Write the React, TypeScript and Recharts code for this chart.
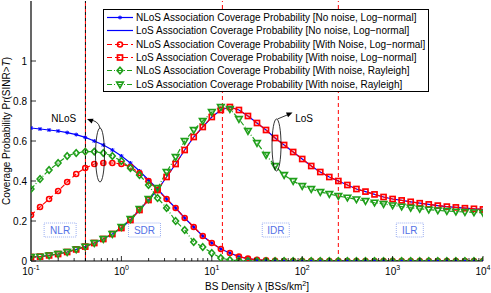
import React from 'react';
import { LineChart, Line, XAxis, YAxis, ReferenceLine, ReferenceDot } from 'recharts';

// BS density (BSs/km^2), one point every 0.1 decade
const lambda = [
  0.1, 0.1259, 0.1585, 0.1995, 0.2512, 0.3162, 0.3981, 0.5012, 0.631, 0.7943,
  1, 1.259, 1.585, 1.995, 2.512, 3.162, 3.981, 5.012, 6.31, 7.943,
  10, 12.59, 15.85, 19.95, 25.12, 31.62, 39.81, 50.12, 63.1, 79.43,
  100, 125.9, 158.5, 199.5, 251.2, 316.2, 398.1, 501.2, 631, 794.3,
  1000, 1259, 1585, 1995, 2512, 3162, 3981, 5012, 6310, 7943, 10000,
];

const nlosNoNoise = [
  0.665, 0.66, 0.655, 0.65, 0.642, 0.632, 0.618, 0.6, 0.58, 0.555,
  0.525, 0.49, 0.45, 0.405, 0.36, 0.31, 0.265, 0.215, 0.17, 0.125,
  0.09, 0.06, 0.04, 0.022, 0.012, 0.006, 0.003, 0.001, 0, 0,
  0, 0, 0, 0, 0, 0, 0, 0, 0, 0,
  0, 0, 0, 0, 0, 0, 0, 0, 0, 0, 0,
];
const losNoNoise = [
  0.02, 0.022, 0.028, 0.035, 0.045, 0.058, 0.072, 0.09, 0.11, 0.135,
  0.165, 0.205, 0.255, 0.305, 0.355, 0.42, 0.485, 0.555, 0.62, 0.67,
  0.72, 0.755, 0.77, 0.755, 0.725, 0.69, 0.655, 0.615, 0.58, 0.545,
  0.51, 0.475, 0.445, 0.42, 0.4, 0.38, 0.36, 0.347, 0.333, 0.32,
  0.31, 0.303, 0.296, 0.289, 0.283, 0.277, 0.272, 0.268, 0.264, 0.261, 0.258,
];
const nlosNoise = [
  0.23, 0.27, 0.31, 0.35, 0.395, 0.435, 0.465, 0.485, 0.49, 0.49,
  0.485, 0.47, 0.44, 0.4, 0.355, 0.31, 0.265, 0.215, 0.17, 0.125,
  0.09, 0.06, 0.04, 0.022, 0.012, 0.006, 0.003, 0.001, 0, 0,
  0, 0, 0, 0, 0, 0, 0, 0, 0, 0,
  0, 0, 0, 0, 0, 0, 0, 0, 0, 0, 0,
];
const losNoise = [
  0.02, 0.022, 0.028, 0.035, 0.045, 0.058, 0.072, 0.09, 0.11, 0.135,
  0.165, 0.205, 0.255, 0.305, 0.355, 0.42, 0.485, 0.555, 0.62, 0.67,
  0.72, 0.755, 0.77, 0.755, 0.725, 0.69, 0.655, 0.615, 0.58, 0.545,
  0.51, 0.475, 0.445, 0.42, 0.4, 0.38, 0.36, 0.347, 0.333, 0.32,
  0.31, 0.303, 0.296, 0.289, 0.283, 0.277, 0.272, 0.268, 0.264, 0.261, 0.258,
];
const nlosRayleigh = [
  0.36, 0.41, 0.455, 0.49, 0.525, 0.54, 0.547, 0.547, 0.54, 0.525,
  0.5, 0.465, 0.43, 0.38, 0.315, 0.265, 0.2, 0.155, 0.095, 0.07,
  0.04, 0.015, 0.005, 0.002, 0, 0, 0, 0, 0, 0,
  0, 0, 0, 0, 0, 0, 0, 0, 0, 0,
  0, 0, 0, 0, 0, 0, 0, 0, 0, 0, 0,
];
const losRayleigh = [
  0.02, 0.022, 0.028, 0.035, 0.045, 0.058, 0.072, 0.09, 0.11, 0.135,
  0.17, 0.21, 0.26, 0.31, 0.365, 0.445, 0.52, 0.6, 0.655, 0.7,
  0.745, 0.77, 0.76, 0.71, 0.65, 0.59, 0.53, 0.475, 0.43, 0.4,
  0.375, 0.36, 0.345, 0.335, 0.325, 0.317, 0.308, 0.3, 0.292, 0.285,
  0.278, 0.272, 0.266, 0.261, 0.257, 0.253, 0.25, 0.247, 0.245, 0.243, 0.241,
];

const xMajorTicks = [0.1, 1, 10, 100, 1000, 10000];
const xMinorSteps = [2, 3, 4, 5, 6, 7, 8, 9];
const yTicks = [0, 0.2, 0.4, 0.6, 0.8, 1];

// region boundaries and annotations (data coordinates)
const boundaryNlosSdr = 0.4;
const redBoundaries = [13.1, 251];
const regionLabels = ['NLR', 'SDR', 'IDR', 'ILR'];
const regionX = [0.21, 1.8, 51, 1550];
const regionY = 0.155;
const groupLabels = ['NLoS', 'LoS'];
const groupLabelX = [0.23, 105];
const groupLabelY = 0.715;
const ellipseX = [0.58, 52];
const ellipseY = [0.53, 0.58];

const BLUE = '#0000ff';
const RED = '#ff0000';
const GREEN = '#1f9f1a';
const FONT = '"Liberation Sans", Arial, Helvetica, sans-serif';

const xTicks = xMajorTicks.slice(0, -1).flatMap((d) => [d, ...xMinorSteps.map((m) => +(d * m).toPrecision(3))]).concat([10000]);

const rows = lambda.map((l, i) => ({
  lambda: l,
  nlosNoNoise: nlosNoNoise[i],
  losNoNoise: losNoNoise[i],
  nlosNoise: nlosNoise[i],
  losNoise: losNoise[i],
  nlosRayleigh: nlosRayleigh[i],
  losRayleigh: losRayleigh[i],
}));

type Kind = 'star' | 'none' | 'circle' | 'square' | 'diamond' | 'triangle';

const series: { key: string; name: string; color: string; dash?: string; marker: Kind }[] = [
  { key: 'nlosNoNoise', name: 'NLoS Association Coverage Probability [No noise, Log\u2212normal]', color: BLUE, marker: 'star' },
  { key: 'losNoNoise', name: 'LoS Association Coverage Probability [No noise, Log\u2212normal]', color: BLUE, marker: 'none' },
  { key: 'nlosNoise', name: 'NLoS Association Coverage Probability [With Noise, Log\u2212normal]', color: RED, dash: '5 3', marker: 'circle' },
  { key: 'losNoise', name: 'LoS Association Coverage Probability [With noise, Log\u2212normal]', color: RED, dash: '5 3', marker: 'square' },
  { key: 'nlosRayleigh', name: 'NLoS Association Coverage Probability [With noise, Rayleigh]', color: GREEN, dash: '5 2 1 2', marker: 'diamond' },
  { key: 'losRayleigh', name: 'LoS Association Coverage Probability [With noise, Rayleigh]', color: GREEN, dash: '5 2 1 2', marker: 'triangle' },
];

function marker(kind: Kind, cx: number, cy: number, color: string, key?: any) {
  if (kind === 'star')
    return (
      <path key={key} d={`M${cx - 2},${cy}h4M${cx},${cy - 2}v4M${cx - 1.5},${cy - 1.5}l3,3M${cx - 1.5},${cy + 1.5}l3,-3`} stroke={color} strokeWidth={1} fill="none" />
    );
  if (kind === 'circle') return <circle key={key} cx={cx} cy={cy} r={2.5} stroke={color} strokeWidth={1.6} fill="none" />;
  if (kind === 'square') return <rect key={key} x={cx - 2.5} y={cy - 2.5} width={5} height={5} stroke={color} strokeWidth={1.7} fill="none" />;
  if (kind === 'diamond')
    return <path key={key} d={`M${cx},${cy - 3.2}L${cx + 2.9},${cy}L${cx},${cy + 3.2}L${cx - 2.9},${cy}Z`} stroke={color} strokeWidth={1.6} fill="none" />;
  if (kind === 'triangle')
    return <path key={key} d={`M${cx - 3.3},${cy - 2.4}L${cx + 3.3},${cy - 2.4}L${cx},${cy + 3.3}Z`} stroke={color} strokeWidth={1.6} fill="none" />;
  return <g key={key} />;
}

const BottomTick = (props: any) => {
  const { x, y, payload } = props;
  const lg = Math.log10(payload.value);
  const exp = Math.round(lg);
  const major = Math.abs(lg - exp) < 1e-6;
  return (
    <g>
      <line x1={x} x2={x} y1={y} y2={y - (major ? 5 : 3)} stroke="#000" strokeWidth={0.8} />
      {major && (
        <text x={x} y={y + 13.5} textAnchor="middle" fontSize={10} fill="#000">
          10<tspan dy={-5} fontSize={7}>{exp}</tspan>
        </text>
      )}
    </g>
  );
};

const TopTick = (props: any) => {
  const { x, y, payload } = props;
  const lg = Math.log10(payload.value);
  const major = Math.abs(lg - Math.round(lg)) < 1e-6;
  return <line x1={x} x2={x} y1={y} y2={y + (major ? 5 : 3)} stroke="#000" strokeWidth={0.8} />;
};

const LeftTick = (props: any) => {
  const { x, y, payload } = props;
  return (
    <g>
      <line x1={x} x2={x + 5} y1={y} y2={y} stroke="#000" strokeWidth={0.8} />
      <text x={x - 4} y={y + 3.5} textAnchor="end" fontSize={10} fill="#000">
        {payload.value}
      </text>
    </g>
  );
};

const RightTick = (props: any) => {
  const { x, y } = props;
  return <line x1={x} x2={x - 5} y1={y} y2={y} stroke="#000" strokeWidth={0.8} />;
};

const YLabel = (props: any) => {
  const vb = props.viewBox || { x: 0, y: 0, width: 31, height: 260 };
  const cx = vb.x + 10;
  const cy = vb.y + vb.height / 2;
  return (
    <text x={cx} y={cy} transform={`rotate(-90 ${cx} ${cy})`} textAnchor="middle" fontSize={10} fill="#000">
      Coverage Probability Pr(SINR&gt;<tspan fontStyle="italic">T</tspan>)
    </text>
  );
};

const XLabel = (props: any) => {
  const vb = props.viewBox || { x: 31, y: 261, width: 452, height: 32 };
  const cx = vb.x + vb.width / 2;
  return (
    <text x={cx} y={vb.y + 29} textAnchor="middle" fontSize={10} fill="#000">
      BS Density λ [BSs/km<tspan dy={-4} fontSize={7}>2</tspan>
      <tspan dy={4}>]</tspan>
    </text>
  );
};

function arrowHead(x1: number, y1: number, x2: number, y2: number) {
  const a = Math.atan2(y2 - y1, x2 - x1);
  const l = 6;
  const w = 2.6;
  const bx = x2 - l * Math.cos(a);
  const by = y2 - l * Math.sin(a);
  const px = -Math.sin(a) * w;
  const py = Math.cos(a) * w;
  return `M${x2},${y2}L${bx + px},${by + py}L${bx - px},${by - py}Z`;
}

const NlosEllipse = (p: any) => {
  const { cx, cy } = p;
  if (cx == null) return null;
  return (
    <g>
      <ellipse cx={cx} cy={cy} rx={4.5} ry={27} fill="none" stroke="#000" strokeWidth={0.8} />
      <path d={`M${cx},${cy - 27}Q${cx - 2},${cy - 35} ${cx - 11},${cy - 35}`} fill="none" stroke="#000" strokeWidth={0.8} />
      <path d={arrowHead(cx - 5, cy - 33, cx - 13, cy - 36)} fill="#000" />
    </g>
  );
};

const LosEllipse = (p: any) => {
  const { cx, cy } = p;
  if (cx == null) return null;
  return (
    <g>
      <ellipse cx={cx} cy={cy} rx={4.5} ry={26} fill="none" stroke="#000" strokeWidth={0.8} />
      <path d={`M${cx + 1},${cy - 26}L${cx + 13},${cy - 31}`} fill="none" stroke="#000" strokeWidth={0.8} />
      <path d={arrowHead(cx + 1, cy - 26, cx + 16, cy - 32.5)} fill="#000" />
    </g>
  );
};

const RegionBox = (p: any) => {
  const { cx, cy, label } = p;
  if (cx == null) return null;
  const w = label === 'IDR' || label === 'ILR' ? 27 : 32;
  return (
    <g>
      <rect x={cx - w / 2} y={cy - 7} width={w} height={14} fill="#fff" stroke="#9db0f2" strokeWidth={1} strokeDasharray="1 1" />
      <text x={cx} y={cy + 3.5} textAnchor="middle" fontSize={10} fill="#5572e6">
        {label}
      </text>
    </g>
  );
};

const GroupText = (p: any) => {
  const { cx, cy, label } = p;
  if (cx == null) return null;
  return (
    <text x={cx} y={cy + 4} textAnchor="middle" fontSize={10} fill="#000">
      {label}
    </text>
  );
};

const LegendBox = () => (
  <div
    style={{
      position: 'absolute',
      left: 103,
      top: 9,
      width: 324,
      height: 80,
      border: '1px solid #000',
      background: '#fff',
      boxSizing: 'content-box',
      paddingTop: 1,
    }}
  >
    {series.map((s) => (
      <div key={s.key} style={{ display: 'flex', alignItems: 'center', height: 13.3, whiteSpace: 'nowrap' }}>
        <svg width={28} height={13} style={{ flex: 'none', marginLeft: 2 }}>
          <line x1={1} x2={27} y1={6.5} y2={6.5} stroke={s.color} strokeWidth={1.2} strokeDasharray={s.dash} />
          {marker(s.marker, 14, 6.5, s.color)}
        </svg>
        <span style={{ fontSize: 10, marginLeft: 2, lineHeight: '13px', color: '#000' }}>{s.name}</span>
      </div>
    ))}
  </div>
);

export default function App() {
  return (
    <div style={{ position: 'absolute', left: 0, top: 0, width: 491, height: 293, background: '#fff', fontFamily: FONT }}>
      <LineChart width={491} height={293} data={rows} margin={{ top: 1, right: 8, bottom: 0, left: 0 }}>
        <XAxis
          xAxisId="b"
          dataKey="lambda"
          type="number"
          scale="log"
          domain={[0.1, 10000]}
          allowDataOverflow
          ticks={xTicks}
          interval={0}
          tick={BottomTick}
          tickSize={0}
          tickMargin={0}
          tickLine={false}
          axisLine={{ stroke: '#000', strokeWidth: 1.2 }}
          height={32}
          label={XLabel}
        />
        <XAxis
          xAxisId="t"
          orientation="top"
          dataKey="lambda"
          type="number"
          scale="log"
          domain={[0.1, 10000]}
          allowDataOverflow
          ticks={xTicks}
          interval={0}
          tick={TopTick}
          tickSize={0}
          tickMargin={0}
          tickLine={false}
          axisLine={{ stroke: '#000', strokeWidth: 1.2 }}
          height={0}
        />
        <YAxis
          yAxisId="l"
          type="number"
          domain={[0, 1.3]}
          allowDataOverflow
          ticks={yTicks}
          interval={0}
          tick={LeftTick}
          tickSize={0}
          tickMargin={0}
          tickLine={false}
          axisLine={{ stroke: '#000', strokeWidth: 1.2 }}
          width={31}
          label={YLabel}
        />
        <YAxis
          yAxisId="r"
          orientation="right"
          type="number"
          domain={[0, 1.3]}
          allowDataOverflow
          ticks={yTicks}
          interval={0}
          tick={RightTick}
          tickSize={0}
          tickMargin={0}
          tickLine={false}
          axisLine={{ stroke: '#000', strokeWidth: 1.2 }}
          width={0}
        />

        <ReferenceLine xAxisId="b" yAxisId="l" x={boundaryNlosSdr} stroke="#000" strokeWidth={1} strokeDasharray="3 3" />
        <ReferenceLine xAxisId="b" yAxisId="l" x={boundaryNlosSdr} stroke={RED} strokeWidth={1} strokeDasharray="3 3" strokeDashoffset={3} />
        {redBoundaries.map((b) => (
          <ReferenceLine key={b} xAxisId="b" yAxisId="l" x={b} stroke={RED} strokeWidth={1} strokeDasharray="4 3" />
        ))}

        {regionLabels.map((r, i) => (
          <ReferenceDot key={r} xAxisId="b" yAxisId="l" x={regionX[i]} y={regionY} shape={(p: any) => <RegionBox {...p} label={r} />} />
        ))}

        {series.map((s) => (
          <Line
            key={s.key}
            xAxisId="b"
            yAxisId="l"
            dataKey={s.key}
            name={s.name}
            stroke={s.color}
            strokeWidth={1.2}
            strokeDasharray={s.dash}
            isAnimationActive={false}
            dot={(p: any) => marker(s.marker, p.cx, p.cy, s.color, `${s.key}-${p.index}`)}
            activeDot={false}
          />
        ))}

        <ReferenceDot xAxisId="b" yAxisId="l" x={ellipseX[0]} y={ellipseY[0]} shape={NlosEllipse} />
        <ReferenceDot xAxisId="b" yAxisId="l" x={ellipseX[1]} y={ellipseY[1]} shape={LosEllipse} />
        {groupLabels.map((g, i) => (
          <ReferenceDot key={g} xAxisId="b" yAxisId="l" x={groupLabelX[i]} y={groupLabelY} shape={(p: any) => <GroupText {...p} label={g} />} />
        ))}
      </LineChart>
      <LegendBox />
    </div>
  );
}
